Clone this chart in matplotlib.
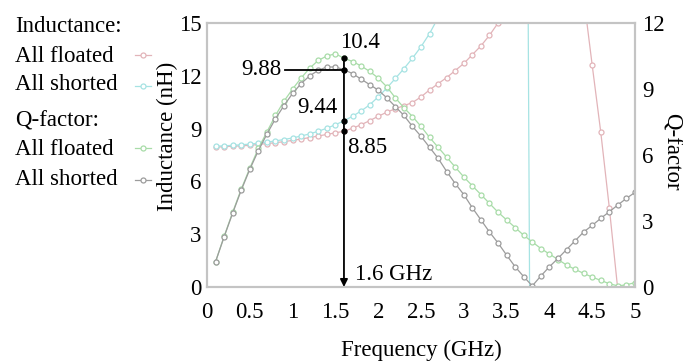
import matplotlib
matplotlib.use("Agg")
import matplotlib.pyplot as plt

plt.rcParams["font.family"] = ["Liberation Serif", "DejaVu Serif"]
plt.rcParams["font.size"] = 16.5

# ──────────────────────────────────────────────
# Data
# ──────────────────────────────────────────────

freq_ghz = [0.1, 0.2, 0.3, 0.4, 0.5, 0.6, 0.7, 0.8, 0.9, 1.0,
            1.1, 1.2, 1.3, 1.4, 1.5, 1.6, 1.7, 1.8, 1.9, 2.0,
            2.1, 2.2, 2.3, 2.4, 2.5, 2.6, 2.7, 2.8, 2.9, 3.0,
            3.1, 3.2, 3.3, 3.4, 3.5, 3.6, 3.7, 3.8, 3.9, 4.0,
            4.1, 4.2, 4.3, 4.4, 4.5, 4.6, 4.7, 4.8, 4.9, 5.0]

# inductance (nH)
ind_floated = [7.95, 7.97, 8.0, 8.02, 8.05, 8.1, 8.15, 8.2, 8.26, 8.33,
               8.41, 8.49, 8.58, 8.67, 8.76, 8.85, 9.02, 9.22, 9.45, 9.7,
               9.93, 10.13, 10.3, 10.48, 10.8, 11.2, 11.55, 11.9, 12.3, 12.7,
               13.2, 13.7, 14.3, 15.0, 15.9, 17.0, 18.4, 20.0, 21.8, 23.5,
               24.2, 23.0, 20.3, 16.5, 12.6, 8.8, 4.5, -0.2, -5.5, -12.0]
ind_shorted = [8.0, 8.02, 8.05, 8.08, 8.12, 8.17, 8.23, 8.3, 8.38, 8.47,
               8.58, 8.7, 8.85, 9.02, 9.22, 9.44, 9.7, 10.0, 10.35, 10.8,
               11.3, 11.85, 12.4, 13.0, 13.65, 14.4, 15.3, 16.5, 18.0, 20.0,
               22.5, 26.0, 31.0, 37.0, 44.0, 53.0, 65.0, -30.0, -20.0, -14.0,
               -10.0, -8.0, -6.5, -5.5, -4.7, -4.0, -3.5, -3.0, -2.6, -2.3]

# Q-factor
q_floated = [1.15, 2.3, 3.4, 4.45, 5.4, 6.3, 7.05, 7.8, 8.45, 9.0,
             9.5, 9.95, 10.3, 10.5, 10.6, 10.4, 10.25, 10.05, 9.8, 9.5,
             9.1, 8.6, 8.15, 7.75, 7.3, 6.8, 6.35, 5.9, 5.45, 5.0,
             4.6, 4.2, 3.8, 3.4, 3.05, 2.7, 2.35, 2.05, 1.75, 1.5,
             1.25, 1.0, 0.8, 0.62, 0.45, 0.3, 0.15, 0.05, 0.1, 0.2]
q_shorted = [1.15, 2.28, 3.36, 4.4, 5.35, 6.2, 6.95, 7.65, 8.25, 8.8,
             9.25, 9.6, 9.85, 10.0, 10.0, 9.88, 9.7, 9.45, 9.2, 8.95,
             8.6, 8.2, 7.8, 7.3, 6.85, 6.35, 5.85, 5.25, 4.7, 4.2,
             3.6, 3.05, 2.5, 2.0, 1.45, 0.92, 0.47, 0.05, 0.5, 0.92,
             1.3, 1.7, 2.1, 2.5, 2.8, 3.12, 3.42, 3.73, 4.03, 4.3]

x_ticks = [0, 0.5, 1, 1.5, 2, 2.5, 3, 3.5, 4, 4.5, 5]
x_ticklabels = ["0", "0.5", "1", "1.5", "2", "2.5", "3", "3.5", "4", "4.5", "5"]
ind_ticks = [0, 3, 6, 9, 12, 15]
q_ticks = [0, 3, 6, 9, 12]

# marked frequency and the values read there
mark_f = 1.6
mark_q_floated = 10.4
mark_q_shorted = 9.88
mark_ind_shorted = 9.44
mark_ind_floated = 8.85

PINK = "#e2b4b9"
CYAN = "#a6e3e3"
GREEN = "#a8dca8"
GRAY = "#9c9c9c"
SPINE = "#c4c4c4"

W, H = 683, 362
fig = plt.figure(figsize=(W / 100, H / 100), dpi=100)
ax = fig.add_axes([207 / W, 1 - 287 / H, (635 - 207) / W, (287 - 23) / H])
ax2 = ax.twinx()

marker_kw = dict(marker="o", ms=3.6, mfc="white", mew=0.9)
ax.plot(freq_ghz, ind_floated, color=PINK, lw=0.9, **marker_kw)
ax.plot(freq_ghz, ind_shorted, color=CYAN, lw=0.9, **marker_kw)
ax2.plot(freq_ghz, q_floated, color=GREEN, lw=0.9, **marker_kw)
ax2.plot(freq_ghz, q_shorted, color=GRAY, lw=0.9, **marker_kw)

ax.set_xlim(0, 5)
ax.set_ylim(0, 15)
ax2.set_ylim(0, 12)
ax.set_xticks(x_ticks)
ax.set_xticklabels(x_ticklabels)
ax.set_yticks(ind_ticks)
ax2.set_yticks(q_ticks)
ax.tick_params(axis="x", length=0, pad=11)
ax.tick_params(axis="y", length=0, pad=4)
ax2.tick_params(axis="y", length=0, pad=5)
for a in (ax, ax2):
    for sp in a.spines.values():
        sp.set_color(SPINE)
        sp.set_linewidth(1.5)

ax.set_xlabel("Frequency (GHz)", labelpad=12)
ax.set_ylabel("Inductance (nH)")
ax.yaxis.set_label_coords(-0.068, 0.57)

# annotations at 1.6 GHz
ax2.annotate("", xy=(mark_f, 0), xytext=(mark_f, mark_q_floated),
             arrowprops=dict(arrowstyle="-|>", color="black", lw=1.3,
                             mutation_scale=11, shrinkA=0, shrinkB=0))
ax2.plot([0.91, mark_f], [mark_q_shorted, mark_q_shorted], color="black", lw=1.3)
ax2.plot([mark_f, mark_f], [mark_q_floated, mark_q_shorted], "o", color="black", ms=3.5)
ax.plot([mark_f, mark_f], [mark_ind_shorted, mark_ind_floated], "o", color="black", ms=3.5)

ax.text(1.55, 13.9, f"{mark_q_floated}", ha="left", va="center")
ax.text(0.87, 12.35, f"{mark_q_shorted}", ha="right", va="center")
ax.text(1.53, 10.2, f"{mark_ind_shorted}", ha="right", va="center")
ax.text(1.64, 7.95, f"{mark_ind_floated}", ha="left", va="center")
ax.text(1.73, 0.7, f"{mark_f} GHz", ha="left", va="center")

# legend block on the left and right-hand axis title, in pixel coordinates
lg = fig.add_axes([0, 0, 1, 1])
lg.set_xlim(0, W)
lg.set_ylim(H, 0)
lg.axis("off")
lg.text(671, 152, "Q-factor", rotation=270, ha="center", va="center")
legend_rows = [
    ("Inductance:", 32, None, None),
    ("All floated", 62, PINK, 55),
    ("All shorted", 90, CYAN, 86),
    ("Q-factor:", 127, None, None),
    ("All floated", 155, GREEN, 148),
    ("All shorted", 185, GRAY, 180),
]
for label, base_y, color, mark_y in legend_rows:
    lg.text(15, base_y, label, ha="left", va="baseline")
    if color is not None:
        lg.plot([135, 151], [mark_y, mark_y], color=color, lw=0.9)
        lg.plot([143], [mark_y], color=color, lw=0, **marker_kw)

fig.savefig("out.png", dpi=100)
